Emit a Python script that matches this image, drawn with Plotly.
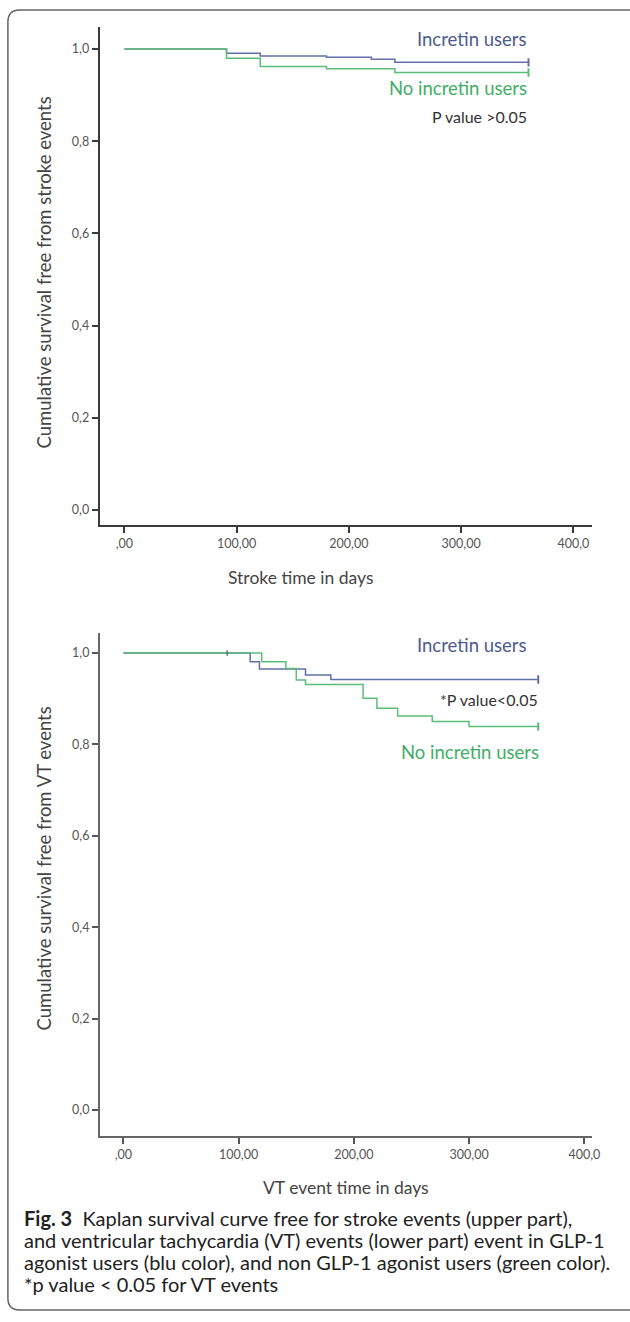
import plotly.graph_objects as go

W, H = 630, 1322

# ---------------- data ----------------
# Upper panel: stroke events
stroke_days_incretin = [0, 91, 121, 180, 220, 241, 360]
stroke_surv_incretin = [1.0, 0.991, 0.985, 0.982, 0.978, 0.971, 0.971]
stroke_days_no_incretin = [0, 91, 121, 180, 241, 360]
stroke_surv_no_incretin = [1.0, 0.980, 0.962, 0.957, 0.949, 0.949]

# Lower panel: VT events
vt_days_incretin = [0, 110, 118, 158, 180, 360]
vt_surv_incretin = [1.0, 0.981, 0.965, 0.952, 0.942, 0.942]
vt_days_no_incretin = [0, 120, 141, 150, 158, 208, 220, 238, 268, 300, 360]
vt_surv_no_incretin = [1.0, 0.981, 0.966, 0.941, 0.931, 0.901, 0.879, 0.862, 0.850, 0.839, 0.839]
vt_censor_days = [90]
vt_censor_surv = [1.0]

x_tick_vals = [0, 100, 200, 300, 400]
x_tick_text = [",00", "100,00", "200,00", "300,00", "400,0"]
y_tick_vals = [0.0, 0.2, 0.4, 0.6, 0.8, 1.0]
y_tick_text = ["0,0", "0,2", "0,4", "0,6", "0,8", "1,0"]

BLUE = "#6170a6"
GREEN = "#5cbd78"
BLUE_TXT = "#4d5b8c"
GREEN_TXT = "#3fae66"
FONT = "Lato"


def px(x):
    return x / W


def py(y):
    return 1 - y / H


fig = go.Figure()


def add_curve(days, surv, color, xa, ya):
    fig.add_trace(go.Scatter(x=days, y=surv, mode="lines", line=dict(color=color, width=1.5, shape="hv"),
                             xaxis=xa, yaxis=ya, showlegend=False, hoverinfo="skip"))
    fig.add_trace(go.Scatter(x=[days[-1]], y=[surv[-1]], mode="markers",
                             marker=dict(symbol="line-ns", size=6, line=dict(color=color, width=2)),
                             xaxis=xa, yaxis=ya, showlegend=False, hoverinfo="skip"))


add_curve(stroke_days_incretin, stroke_surv_incretin, BLUE, "x", "y")
add_curve(stroke_days_no_incretin, stroke_surv_no_incretin, GREEN, "x", "y")
add_curve(vt_days_incretin, vt_surv_incretin, BLUE, "x2", "y2")
add_curve(vt_days_no_incretin, vt_surv_no_incretin, GREEN, "x2", "y2")
fig.add_trace(go.Scatter(x=vt_censor_days, y=vt_censor_surv, mode="markers",
                         marker=dict(symbol="line-ns", size=4, line=dict(color="#555", width=1.2)),
                         xaxis="x2", yaxis="y2", showlegend=False, hoverinfo="skip"))

tickfont = dict(family=FONT, size=12.5, color="#555")
axis_common = dict(showgrid=False, zeroline=False, showline=True, ticks="outside", ticklen=6,
                   tickwidth=1.5, tickfont=tickfont, fixedrange=True)

fig.update_layout(
    width=W, height=H, autosize=False,
    margin=dict(l=0, r=0, t=0, b=0),
    paper_bgcolor="white", plot_bgcolor="white",
    xaxis=dict(domain=[px(101), px(600)], anchor="y", range=[-22, 416.9],
               tickvals=x_tick_vals, ticktext=x_tick_text,
               linecolor="#3a3a3a", linewidth=2, tickcolor="#3a3a3a", **axis_common),
    yaxis=dict(domain=[py(525), py(27)], anchor="x", range=[-0.0325, 1.0477],
               tickvals=y_tick_vals, ticktext=y_tick_text,
               linecolor="#3a3a3a", linewidth=2, tickcolor="#3a3a3a", **axis_common),
    xaxis2=dict(domain=[px(101), px(600)], anchor="y2", range=[-20.6, 407.0],
                tickvals=x_tick_vals, ticktext=x_tick_text,
                linecolor="#666", linewidth=1.6, tickcolor="#555", **axis_common),
    yaxis2=dict(domain=[py(1136), py(633)], anchor="x2", range=[-0.0569, 1.0438],
                tickvals=y_tick_vals, ticktext=y_tick_text,
                linecolor="#666", linewidth=1.6, tickcolor="#555", **axis_common),
)

ann = []


def text(x, y, s, size=15, color="#444", xanchor="center", angle=0):
    ann.append(dict(x=px(x), y=py(y), xref="paper", yref="paper", text=s, showarrow=False,
                    xanchor=xanchor, yanchor="middle", textangle=angle,
                    font=dict(family=FONT, size=size, color=color)))


# upper panel texts
text(536, 39, "Incretin users", 18.5, BLUE_TXT, "right")
text(536, 88, "No incretin users", 18.5, GREEN_TXT, "right")
text(536, 117, "P value &gt;0.05", 16, "#333", "right")
text(45, 272, "Cumulative survival free from stroke events", 18.5, "#444", angle=-90)
text(305, 577, "Stroke time in days", 17.5, "#444")

# lower panel texts
text(536, 645, "Incretin users", 18.5, BLUE_TXT, "right")
text(547, 700, "*P value&lt;0.05", 16, "#333", "right")
text(548, 752, "No incretin users", 18.5, GREEN_TXT, "right")
text(45, 868, "Cumulative survival free from VT events", 18.5, "#444", angle=-90)
text(350, 1187, "VT event time in days", 17.5, "#444")

# caption
cap_lines = [
    "<b>Fig. 3</b>  Kaplan survival curve free for stroke events (upper part),",
    "and ventricular tachycardia (VT) events (lower part) event in GLP-1",
    "agonist users (blu color), and non GLP-1 agonist users (green color).",
    "*p value &lt; 0.05 for VT events",
]
for i, line in enumerate(cap_lines):
    ann.append(dict(x=px(22), y=py(1218 + 22 * i), xref="paper", yref="paper", text=line,
                    showarrow=False, xanchor="left", yanchor="middle",
                    font=dict(family=FONT, size=20, color="#222")))

fig.update_layout(annotations=ann)

# rounded frame
r = 12
x0, y0, x1, y1 = 8, 10, 660, 1310
path = (f"M {px(x0 + r)},{py(y0)} L {px(x1)},{py(y0)} "
        f"M {px(x1)},{py(y1)} L {px(x0 + r)},{py(y1)} "
        f"Q {px(x0)},{py(y1)} {px(x0)},{py(y1 - r)} "
        f"L {px(x0)},{py(y0 + r)} Q {px(x0)},{py(y0)} {px(x0 + r)},{py(y0)}")
fig.add_shape(type="path", path=path, xref="paper", yref="paper",
              line=dict(color="#666", width=1.5), layer="below")

fig.write_html("out.html")
